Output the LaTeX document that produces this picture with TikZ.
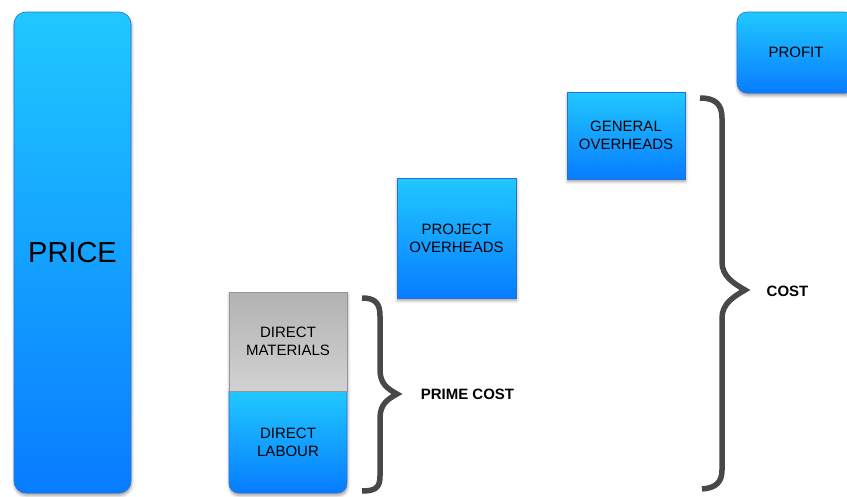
\documentclass[tikz,border=0pt]{standalone}
\usepackage{fontspec}
\setmainfont{Liberation Sans}
\usetikzlibrary{shadows.blur}

\definecolor{boxtop}{RGB}{32,200,255}
\definecolor{boxbot}{RGB}{8,124,255}
\definecolor{boxline}{RGB}{38,112,215}
\definecolor{greytop}{RGB}{178,178,178}
\definecolor{greybot}{RGB}{210,210,210}
\definecolor{greyline}{RGB}{150,150,150}
\definecolor{bracecol}{RGB}{72,72,72}

\tikzset{
  boxshadow/.style={blur shadow={shadow xshift=0.6pt, shadow yshift=-2.5pt,
      shadow blur radius=3pt, shadow opacity=40}},
  bluebox/.style={draw=boxline, line width=0.6pt, top color=boxtop,
      bottom color=boxbot, inner sep=0pt, boxshadow, boxtext},
  boxtext/.style={font=\fontsize{15}{18}\selectfont, align=center, text=black},
  bracepath/.style={draw=bracecol, line width=5.5pt, line join=miter},
  bracetag/.style={font=\fontsize{15}{18}\selectfont\bfseries, text=black}
}

\begin{document}
\begin{tikzpicture}[x=1pt,y=-1pt]
\useasboundingbox (0,0) rectangle (847,496);

% price column
\node[bluebox, rounded corners=12pt, minimum width=117pt, minimum height=481pt,
      font=\fontsize{29}{34}\selectfont] (price) at (72.5,252.5) {PRICE};

% prime cost block: materials over labour, one shared shadow
\fill[white, boxshadow] (229,292) -- (347,292) -- (347,483)
  .. controls (347,489) and (343,493) .. (337,493) -- (239,493)
  .. controls (233,493) and (229,489) .. (229,483) -- cycle;
\path[draw=boxline, line width=0.6pt, top color=boxtop, bottom color=boxbot]
  (229,391) -- (347,391) -- (347,483)
  .. controls (347,489) and (343,493) .. (337,493) -- (239,493)
  .. controls (233,493) and (229,489) .. (229,483) -- cycle;
\node[boxtext] (labour) at (288,442) {DIRECT\\LABOUR};
\node[draw=greyline, line width=0.6pt, top color=greytop, bottom color=greybot,
      minimum width=118pt, minimum height=99pt, inner sep=0pt, boxtext]
      (materials) at (288,341.5) {DIRECT\\MATERIALS};

% overheads
\node[bluebox, minimum width=119pt, minimum height=120pt] (project)
      at (456.5,238) {PROJECT\\OVERHEADS};
\node[bluebox, minimum width=118pt, minimum height=87pt] (general)
      at (626,135.5) {GENERAL\\OVERHEADS};

% profit, running off the right edge
\node[bluebox, rounded corners=10pt, minimum width=118pt, minimum height=81pt]
      (profit) at (796,52.5) {PROFIT};

% braces
\coordinate (primetip) at (397,394);
\coordinate (costtip) at (745,290);
\draw[bracepath] (362,298) .. controls (375,298) and (380,303) .. (380,316)
  -- (380,370) .. controls (380,384) and (388,389) .. (primetip)
  .. controls (388,399) and (380,404) .. (380,418)
  -- (380,476) .. controls (380,488) and (375,491) .. (362,491);
\draw[bracepath] (700,98) .. controls (715,98) and (722,104) .. (722,118)
  -- (722,262) .. controls (722,276) and (733,283) .. (costtip)
  .. controls (733,297) and (722,304) .. (722,318)
  -- (722,470) .. controls (722,482) and (716,488) .. (702,489);

\node[bracetag] (primecost) at (467.5,394.5) {PRIME COST};
\node[bracetag] (cost) at (787.5,291.5) {COST};
\end{tikzpicture}
\end{document}
